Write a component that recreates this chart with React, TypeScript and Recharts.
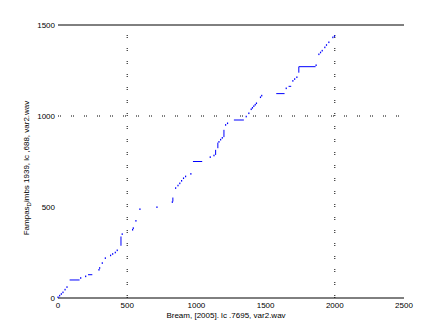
import { ComposedChart, Scatter, Line, XAxis, YAxis, ReferenceLine } from 'recharts';

const xTicks = [0, 500, 1000, 1500, 2000, 2500];
const yTicks = [0, 500, 1000, 1500];
const gridX = [500, 2000];
const gridY = [1000];

// single alignment points
const dots = [
  { x: 0, y: 4 }, { x: 12, y: 13 }, { x: 24, y: 22 }, { x: 36, y: 31 }, { x: 51, y: 46 }, { x: 65, y: 60 },
  { x: 164, y: 110 }, { x: 200, y: 119 },
  { x: 296, y: 155 }, { x: 301, y: 165 }, { x: 320, y: 192 }, { x: 342, y: 219 }, { x: 380, y: 234 },
  { x: 395, y: 242 }, { x: 414, y: 250 }, { x: 428, y: 262 },
  { x: 464, y: 351 }, { x: 539, y: 375 }, { x: 544, y: 384 }, { x: 563, y: 424 }, { x: 592, y: 488 },
  { x: 715, y: 499 }, { x: 826, y: 527 },
  { x: 850, y: 604 }, { x: 867, y: 618 }, { x: 880, y: 630 }, { x: 893, y: 644 }, { x: 907, y: 658 },
  { x: 922, y: 668 }, { x: 960, y: 682 },
  { x: 1100, y: 774 }, { x: 1127, y: 783 },
  { x: 1163, y: 858 }, { x: 1175, y: 870 }, { x: 1187, y: 880 },
  { x: 1211, y: 951 }, { x: 1225, y: 960 },
  { x: 1360, y: 997 }, { x: 1379, y: 1015 }, { x: 1396, y: 1037 }, { x: 1405, y: 1045 }, { x: 1415, y: 1054 },
  { x: 1425, y: 1062 }, { x: 1434, y: 1070 }, { x: 1463, y: 1103 }, { x: 1472, y: 1112 },
  { x: 1649, y: 1152 }, { x: 1697, y: 1193 }, { x: 1710, y: 1203 }, { x: 1726, y: 1213 },
  { x: 1865, y: 1279 }, { x: 1885, y: 1339 }, { x: 1897, y: 1349 }, { x: 1909, y: 1359 }, { x: 1928, y: 1377 },
  { x: 1940, y: 1390 }, { x: 1957, y: 1405 }, { x: 1986, y: 1432 }, { x: 1998, y: 1439 },
];

// flat / vertical runs of the path (null breaks between runs)
const steps = [
  { x: 84, y: 99 }, { x: 156, y: 99 }, { x: 157, y: null },
  { x: 217, y: 128 }, { x: 248, y: 128 }, { x: 249, y: null },
  { x: 455, y: 287 }, { x: 455, y: 338 }, { x: 456, y: null },
  { x: 830, y: 530 }, { x: 830, y: 552 }, { x: 831, y: null },
  { x: 975, y: 750 }, { x: 1042, y: 750 }, { x: 1043, y: null },
  { x: 1139, y: 786 }, { x: 1139, y: 814 }, { x: 1140, y: null },
  { x: 1155, y: 823 }, { x: 1155, y: 854 }, { x: 1156, y: null },
  { x: 1199, y: 884 }, { x: 1199, y: 924 }, { x: 1200, y: null },
  { x: 1271, y: 978 }, { x: 1343, y: 978 }, { x: 1344, y: null },
  { x: 1577, y: 1123 }, { x: 1637, y: 1123 }, { x: 1638, y: null },
  { x: 1666, y: 1163 }, { x: 1685, y: 1163 }, { x: 1686, y: null },
  { x: 1740, y: 1238 }, { x: 1740, y: 1271 }, { x: 1861, y: 1271 },
];

const font = '"Liberation Sans", Arial, sans-serif';
const blue = '#0000ff';

const Dot = (props: any) => (
  <rect x={props.cx - 0.6} y={props.cy - 0.8} width={1.2} height={1.6} fill={blue} />
);

const XLabel = (props: any) => {
  const vb = props.viewBox;
  return (
    <text x={vb.x + vb.width / 2 - 5} y={vb.y + 19.5} textAnchor="middle" fontSize={8} fontFamily={font} fill="#000">
      Bream, [2005]. lc .7695, var2.wav
    </text>
  );
};

const YLabel = () => (
  <text
    x={0}
    y={0}
    transform="translate(28.5,168) rotate(-90)"
    textAnchor="middle"
    fontSize={8}
    fontFamily={font}
    fill="#000"
  >
    Fampas<tspan dy={2} fontSize={6}>D</tspan>
    <tspan dy={-2}>imbs 1939, lc ,688, var2.wav</tspan>
  </text>
);

export default function App() {
  return (
    <div style={{ position: 'absolute', left: 0, top: 0, width: 447, height: 335, background: '#fff' }}>
      <ComposedChart width={447} height={335} margin={{ top: 25, right: 43, bottom: 0, left: 0 }}>
        <XAxis
          type="number"
          dataKey="x"
          domain={[0, 2500]}
          ticks={xTicks}
          height={37}
          axisLine={{ stroke: '#000', strokeWidth: 1 }}
          tickLine={false}
          tickSize={0}
          tickMargin={4}
          tick={{ fontSize: 8, fontFamily: font, fill: '#000' }}
          label={<XLabel />}
        />
        <YAxis
          type="number"
          dataKey="y"
          domain={[0, 1500]}
          ticks={yTicks}
          width={58}
          axisLine={false}
          tickLine={false}
          tickSize={0}
          tickMargin={3}
          tick={{ fontSize: 8, fontFamily: font, fill: '#000' }}
          label={<YLabel />}
        />
        <ReferenceLine y={1500} stroke="#000" strokeWidth={1} />
        {gridX.map((v) => (
          <ReferenceLine key={'gx' + v} x={v} stroke="#000" strokeWidth={1} strokeDasharray="1 1 1 10" />
        ))}
        {gridY.map((v) => (
          <ReferenceLine key={'gy' + v} y={v} stroke="#000" strokeWidth={1} strokeDasharray="1 1 1 10" />
        ))}
        <Line
          data={steps}
          dataKey="y"
          type="linear"
          stroke={blue}
          strokeWidth={1}
          dot={false}
          activeDot={false}
          connectNulls={false}
          isAnimationActive={false}
        />
        <Scatter data={dots} dataKey="y" fill={blue} shape={<Dot />} isAnimationActive={false} />
      </ComposedChart>
    </div>
  );
}
